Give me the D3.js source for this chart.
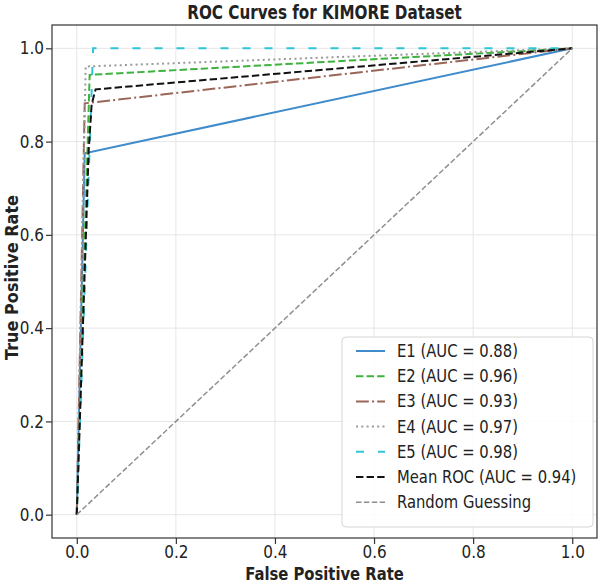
<!DOCTYPE html>
<html>
<head>
<meta charset="utf-8">
<script src="https://cdn.jsdelivr.net/npm/d3@7"></script>
<style>
  body { margin: 0; background: #fff; }
  text { font-family: "DejaVu Sans", sans-serif; fill: #222; }
</style>
</head>
<body>
<div id="chart"></div>
<script>
// ROC points (fpr, tpr)
const seriesNames = ["E1", "E2", "E3", "E4", "E5", "Mean ROC"];
const aucValues = [0.88, 0.96, 0.93, 0.97, 0.98, 0.94];
const fprE1 = [0, 0.016, 1], tprE1 = [0, 0.775, 1];
const fprE2 = [0, 0.026, 1], tprE2 = [0, 0.943, 1];
const fprE3 = [0, 0.016, 1], tprE3 = [0, 0.882, 1];
const fprE4 = [0, 0.018, 1], tprE4 = [0, 0.961, 1];
const fprE5 = [0, 0.033, 1], tprE5 = [0, 1.0, 1];
const fprMean = [0, 0.024, 0.03, 0.038, 1], tprMean = [0, 0.78, 0.88, 0.912, 1];
const fprRandom = [0, 1], tprRandom = [0, 1];
const tickValues = [0, 0.2, 0.4, 0.6, 0.8, 1.0];

const styles = [
  {color: "#3f8bcc", dash: null, width: 2},
  {color: "#3db23d", dash: "7.4,3.2", width: 2},
  {color: "#9a6658", dash: "12.8,3.2,2,3.2", width: 2},
  {color: "#9a9a9a", dash: "2,3.3", width: 2},
  {color: "#2cc6d6", dash: "8,14", width: 2},
  {color: "#111111", dash: "7.4,3.2", width: 2},
  {color: "#8f8f8f", dash: "5.5,2.4", width: 1.5}
];

const curves = [
  {fpr: fprE1, tpr: tprE1}, {fpr: fprE2, tpr: tprE2}, {fpr: fprE3, tpr: tprE3},
  {fpr: fprE4, tpr: tprE4}, {fpr: fprE5, tpr: tprE5}, {fpr: fprMean, tpr: tprMean},
  {fpr: fprRandom, tpr: tprRandom}
];
const labels = seriesNames.map((n, i) => `${n} (AUC = ${aucValues[i].toFixed(2)})`)
  .concat(["Random Guessing"]);

const SX = 0.87; // text is horizontally squeezed in the source picture
const width = 601, height = 584;
const margin = {top: 25, right: 4, bottom: 46, left: 52};

const svg = d3.select("#chart").append("svg")
    .attr("width", width)
    .attr("height", height);

const x = d3.scaleLinear()
    .domain([-0.05, 1.05])
    .range([margin.left, width - margin.right]);
const y = d3.scaleLinear()
    .domain([-0.05, 1.05])
    .range([height - margin.bottom, margin.top]);

// grid
svg.append("g")
  .selectAll("line")
  .data(tickValues)
  .join("line")
    .attr("x1", d => x(d)).attr("x2", d => x(d))
    .attr("y1", margin.top).attr("y2", height - margin.bottom)
    .attr("stroke", "#e6e6e6").attr("stroke-width", 1);
svg.append("g")
  .selectAll("line")
  .data(tickValues)
  .join("line")
    .attr("y1", d => y(d)).attr("y2", d => y(d))
    .attr("x1", margin.left).attr("x2", width - margin.right)
    .attr("stroke", "#e6e6e6").attr("stroke-width", 1);

// curves
const line = d3.line().x(d => x(d[0])).y(d => y(d[1]));
curves.forEach((c, i) => {
  svg.append("path")
    .datum(c.fpr.map((f, j) => [f, c.tpr[j]]))
    .attr("fill", "none")
    .attr("stroke", styles[i].color)
    .attr("stroke-width", styles[i].width)
    .attr("stroke-dasharray", styles[i].dash)
    .attr("d", line);
});

// frame
svg.append("rect")
  .attr("x", margin.left).attr("y", margin.top)
  .attr("width", width - margin.left - margin.right)
  .attr("height", height - margin.top - margin.bottom)
  .attr("fill", "none").attr("stroke", "#333").attr("stroke-width", 1.2);

// axes
const xAxis = svg.append("g")
  .attr("transform", `translate(0,${height - margin.bottom})`)
  .call(d3.axisBottom(x).tickValues(tickValues).tickFormat(d3.format(".1f")).tickSizeOuter(0));
const yAxis = svg.append("g")
  .attr("transform", `translate(${margin.left},0)`)
  .call(d3.axisLeft(y).tickValues(tickValues).tickFormat(d3.format(".1f")).tickSizeOuter(0));
[xAxis, yAxis].forEach(a => {
  a.select(".domain").remove();
  a.selectAll("line").attr("stroke", "#333").attr("stroke-width", 1.2);
  a.selectAll("text").attr("font-size", 17.5).attr("fill", "#222");
});
xAxis.selectAll("text").attr("y", 8).attr("transform", `scale(${SX},1)`);
yAxis.selectAll("text").attr("x", -8 / SX).attr("transform", `scale(${SX},1)`);

// titles
svg.append("text")
  .attr("transform", `translate(${(margin.left + width - margin.right) / 2},19) scale(0.8,1)`)
  .attr("text-anchor", "middle")
  .attr("font-size", 19).attr("font-weight", "bold")
  .text("ROC Curves for KIMORE Dataset");
svg.append("text")
  .attr("transform", `translate(${(margin.left + width - margin.right) / 2},580) scale(${SX},1)`)
  .attr("text-anchor", "middle")
  .attr("font-size", 17).attr("font-weight", "bold")
  .text("False Positive Rate");
svg.append("text")
  .attr("transform", `translate(18,${(margin.top + height - margin.bottom) / 2 - 4}) rotate(-90) scale(${SX + 0.05},1)`)
  .attr("text-anchor", "middle")
  .attr("font-size", 17.5).attr("font-weight", "bold")
  .text("True Positive Rate");

// legend
const lg = svg.append("g").attr("transform", "translate(342,337)");
lg.append("rect")
  .attr("width", 251).attr("height", 190)
  .attr("rx", 4)
  .attr("fill", "#fff").attr("fill-opacity", 0.85)
  .attr("stroke", "#d6d6d6");
labels.forEach((lab, i) => {
  const yy = 14 + i * 25.2;
  lg.append("line")
    .attr("x1", 14).attr("x2", 43).attr("y1", yy).attr("y2", yy)
    .attr("stroke", styles[i].color)
    .attr("stroke-width", styles[i].width)
    .attr("stroke-dasharray", styles[i].dash);
  lg.append("text")
    .attr("transform", `translate(55,${yy + 6}) scale(${SX},1)`)
    .attr("font-size", 17)
    .text(lab);
});
</script>
</body>
</html>
